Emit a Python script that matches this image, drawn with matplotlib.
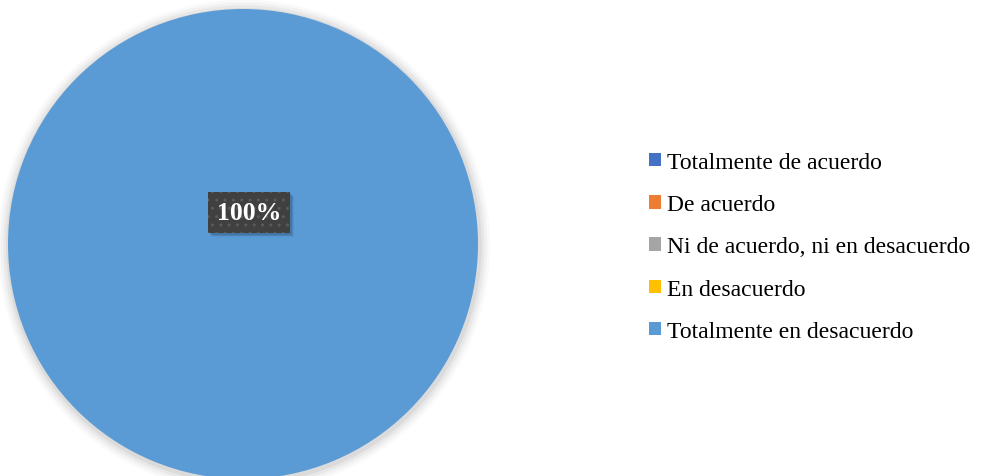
import matplotlib.pyplot as plt
from matplotlib.patches import Patch, Circle, Rectangle
from matplotlib.transforms import IdentityTransform

# Survey answers (percent of respondents)
categories = ["Totalmente de acuerdo", "De acuerdo", "Ni de acuerdo, ni en desacuerdo",
              "En desacuerdo", "Totalmente en desacuerdo"]
values = [0, 0, 0, 0, 100]
colors = ["#4472C4", "#ED7D31", "#A5A5A5", "#FFC000", "#5B9BD5"]

plt.rcParams['font.family'] = ['Liberation Serif', 'DejaVu Serif']

fig = plt.figure(figsize=(9.81, 4.77), dpi=100)
W, H = 981, 477
# pie centred at (243, 245) px with radius 235 px
cx, cy, r = 243, 245, 235
ax = fig.add_axes([(cx - r) / W, (H - cy - r) / H, 2 * r / W, 2 * r / H])

# soft shadow around the pie
for i, a in enumerate([0.05, 0.04, 0.03, 0.02]):
    ax.add_patch(Circle((0.004, -0.008), 1.0 + 0.012 * (i + 1), color="black",
                        alpha=a, lw=0, zorder=0, clip_on=False))

wedges, _ = ax.pie(values, colors=colors, startangle=90, counterclock=False, radius=1.0,
                   wedgeprops=dict(linewidth=0))
for w in wedges:
    w.set_zorder(1)
ax.set_xlim(-1, 1)
ax.set_ylim(-1, 1)
ax.set_aspect("equal")
ax.axis("off")

# data label for the only non-zero slice
total = sum(values)
labels = []
for v in values:
    if v > 0:
        t = ax.text(0.026, 0.136, "%d%%" % round(100 * v / total), fontsize=18.5,
                    fontweight="bold", color="white", ha="center", va="center", zorder=4,
                    bbox=dict(boxstyle="square,pad=0.35", facecolor="#404040",
                              edgecolor="#5a5a5a", hatch="..", linewidth=0))
        labels.append(t)

handles = [Patch(facecolor=c, edgecolor="none") for c in colors]
leg = fig.legend(handles, categories, loc="center left",
                 bbox_to_anchor=(640 / W, (H - 248) / H), frameon=False,
                 fontsize=17, handlelength=0.5, handleheight=0.5,
                 handletextpad=0.25, labelspacing=0.9, borderaxespad=0)

# soft shadow under the label box
fig.canvas.draw()
for t in labels:
    bb = t.get_bbox_patch().get_window_extent()
    for k, a in enumerate([0.12, 0.08, 0.05]):
        d = 2 + k
        ax.add_artist(Rectangle((bb.x0 + d, bb.y0 - d), bb.width, bb.height,
                                transform=IdentityTransform(), facecolor="black",
                                alpha=a, lw=0, zorder=2.5, clip_on=False))

fig.savefig("out.png", dpi=100)
